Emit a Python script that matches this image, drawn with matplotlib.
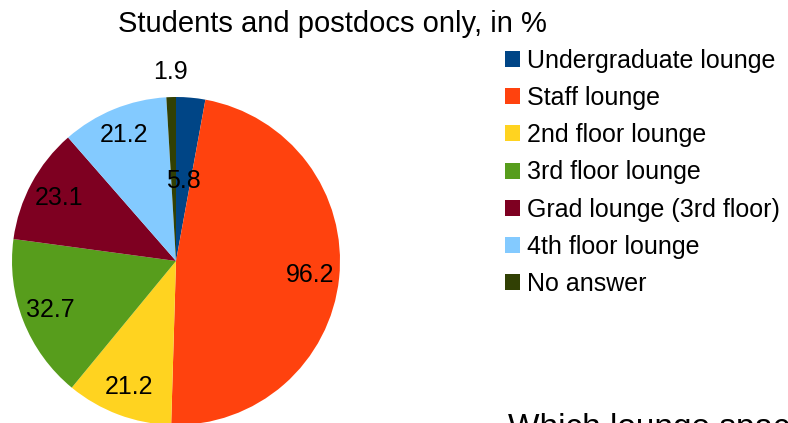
import numpy as np
import matplotlib
matplotlib.use("Agg")
import matplotlib.pyplot as plt

plt.rcParams['font.family'] = ['Liberation Sans', 'DejaVu Sans']

categories = ["Undergraduate lounge", "Staff lounge", "2nd floor lounge",
              "3rd floor lounge", "Grad lounge (3rd floor)", "4th floor lounge",
              "No answer"]
values = [5.8, 96.2, 21.2, 32.7, 23.1, 21.2, 1.9]
value_labels = ["5.8", "96.2", "21.2", "32.7", "23.1", "21.2", "1.9"]
colors = ["#004586", "#ff420e", "#ffd320", "#579d1c", "#7e0021", "#83caff", "#314004"]
label_radius = [0.49, 0.82, 0.82, 0.82, 0.81, 0.83, 1.15]

W, H = 788, 423
fig = plt.figure(figsize=(W / 100, H / 100), dpi=100)

cx, cy, r = 176, 261, 164
ax = fig.add_axes([(cx - r) / W, (H - cy - r) / H, 2 * r / W, 2 * r / H])
wedges, _ = ax.pie(values, colors=colors, startangle=90, counterclock=False,
                   wedgeprops=dict(linewidth=0))
ax.set_xlim(-1, 1)
ax.set_ylim(-1, 1)
ax.set_aspect('equal')
ax.axis('off')

for w, lab, rf in zip(wedges, value_labels, label_radius):
    ang = np.deg2rad((w.theta1 + w.theta2) / 2)
    ax.text(rf * np.cos(ang), rf * np.sin(ang), lab, ha='center', va='center',
            fontsize=18, color='black', clip_on=False)

fig.text(118 / W, 1 - 32.5 / H, "Students and postdocs only, in %",
         fontsize=21, ha='left', va='baseline')

fig.legend(wedges, categories, loc='upper left',
           bbox_to_anchor=(505 / W, 1 - 48.7 / H), bbox_transform=fig.transFigure,
           frameon=False, fontsize=18, borderpad=0, borderaxespad=0,
           handlelength=0.6, handleheight=0.6, handletextpad=0.28,
           labelspacing=0.53)

fig.text(508 / W, (H - 437) / H, "Which lounge space", fontsize=24,
         ha='left', va='baseline')

fig.savefig("out.png", dpi=100)
